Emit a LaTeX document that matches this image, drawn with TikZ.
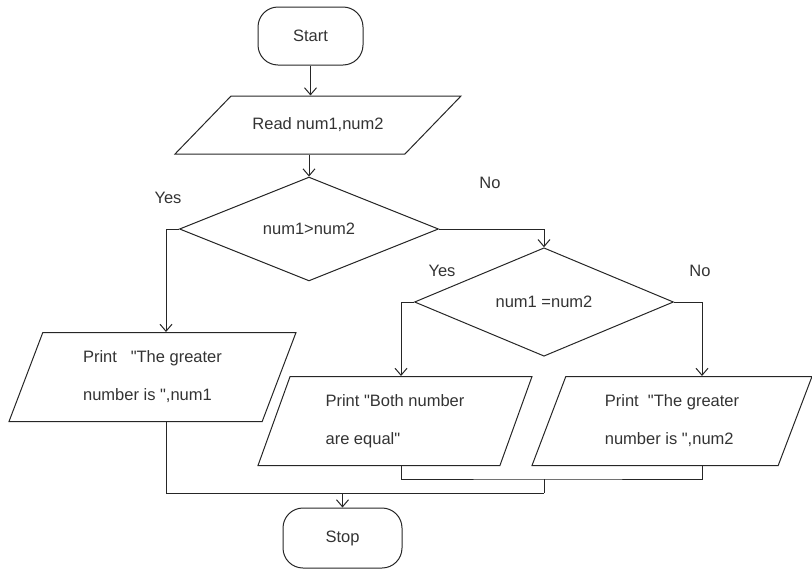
\documentclass[tikz,border=0pt]{standalone}
\usepackage{fontspec}
\setmainfont{Liberation Sans}[Ligatures=TeXOff]
\usetikzlibrary{shapes.geometric,arrows.meta}

\tikzset{
  term/.style={draw,rounded corners=20pt,minimum width=105pt,minimum height=58pt,inner sep=0pt},
  io/.style={draw,trapezium,trapezium stretches body,trapezium left angle=57,trapezium right angle=123,
    minimum height=89pt,inner sep=0pt,align=left},
  decision/.style={draw,diamond,minimum width=259pt,minimum height=88pt,inner sep=0pt},
  flow/.style={->}
}

\begin{document}
\begin{tikzpicture}[x=1pt,y=-1pt,font=\fontsize{16.5}{38}\selectfont,line width=1pt,
    draw=black!85,text=black!80,>={Straight Barb[length=7pt,width=12pt]}]
  \useasboundingbox (0,0) rectangle (812,571);
  % terminals and boxes
  \node[term] (start) at (310.5,36) {Start};
  \node[io,trapezium left angle=45,trapezium right angle=135,inner ysep=21pt,minimum width=286pt,minimum height=58pt] (read) at (318,125) {Read num1,num2};
  \node[decision] (dec1) at (309,229) {num1>num2};
  \node[decision] (dec2) at (544,302) {num1 =num2};
  \node[io,minimum width=287pt] (print1) at (152.5,377) {Print\ \ \ "The greater\\number is ",num1};
  \node[io,trapezium left angle=59,trapezium right angle=121,minimum width=274pt] (print2) at (395,421) {Print "Both number\\are equal"};
  \node[io,minimum width=280pt] (print3) at (672,421) {Print\ \ "The greater\\number is ",num2};
  \node[term,minimum width=119pt,minimum height=60pt] (stop) at (342.5,538) {Stop};
  % branch labels
  \node (yes1) at (168,198) {Yes};
  \node (no1) at (490,183) {No};
  \node (yes2) at (442,271) {Yes};
  \node (no2) at (700,271) {No};
  % joins
  \coordinate (joinR) at (544,479);
  \coordinate (joinL) at (544,493);
  % connectors
  \draw[flow] (start.south) -- (start.south |- read.north);
  \draw[flow] (dec1.north |- read.south) -- (dec1.north);
  \draw[flow] (dec1.west) -| ([xshift=13.5pt]print1.north);
  \draw[flow] (dec1.east) -| (dec2.north);
  \draw[flow] (dec2.west) -| ([xshift=6pt]print2.north);
  \draw[flow] (dec2.east) -| ([xshift=30pt]print3.north);
  \draw ([xshift=6pt]print2.south) |- (joinR) -| ([xshift=30pt]print3.south);
  \draw (joinR) -- (joinL);
  \draw ([xshift=13.5pt]print1.south) |- (joinL);
  \draw[flow] (stop.north |- joinL) -- (stop.north);
\end{tikzpicture}
\end{document}
